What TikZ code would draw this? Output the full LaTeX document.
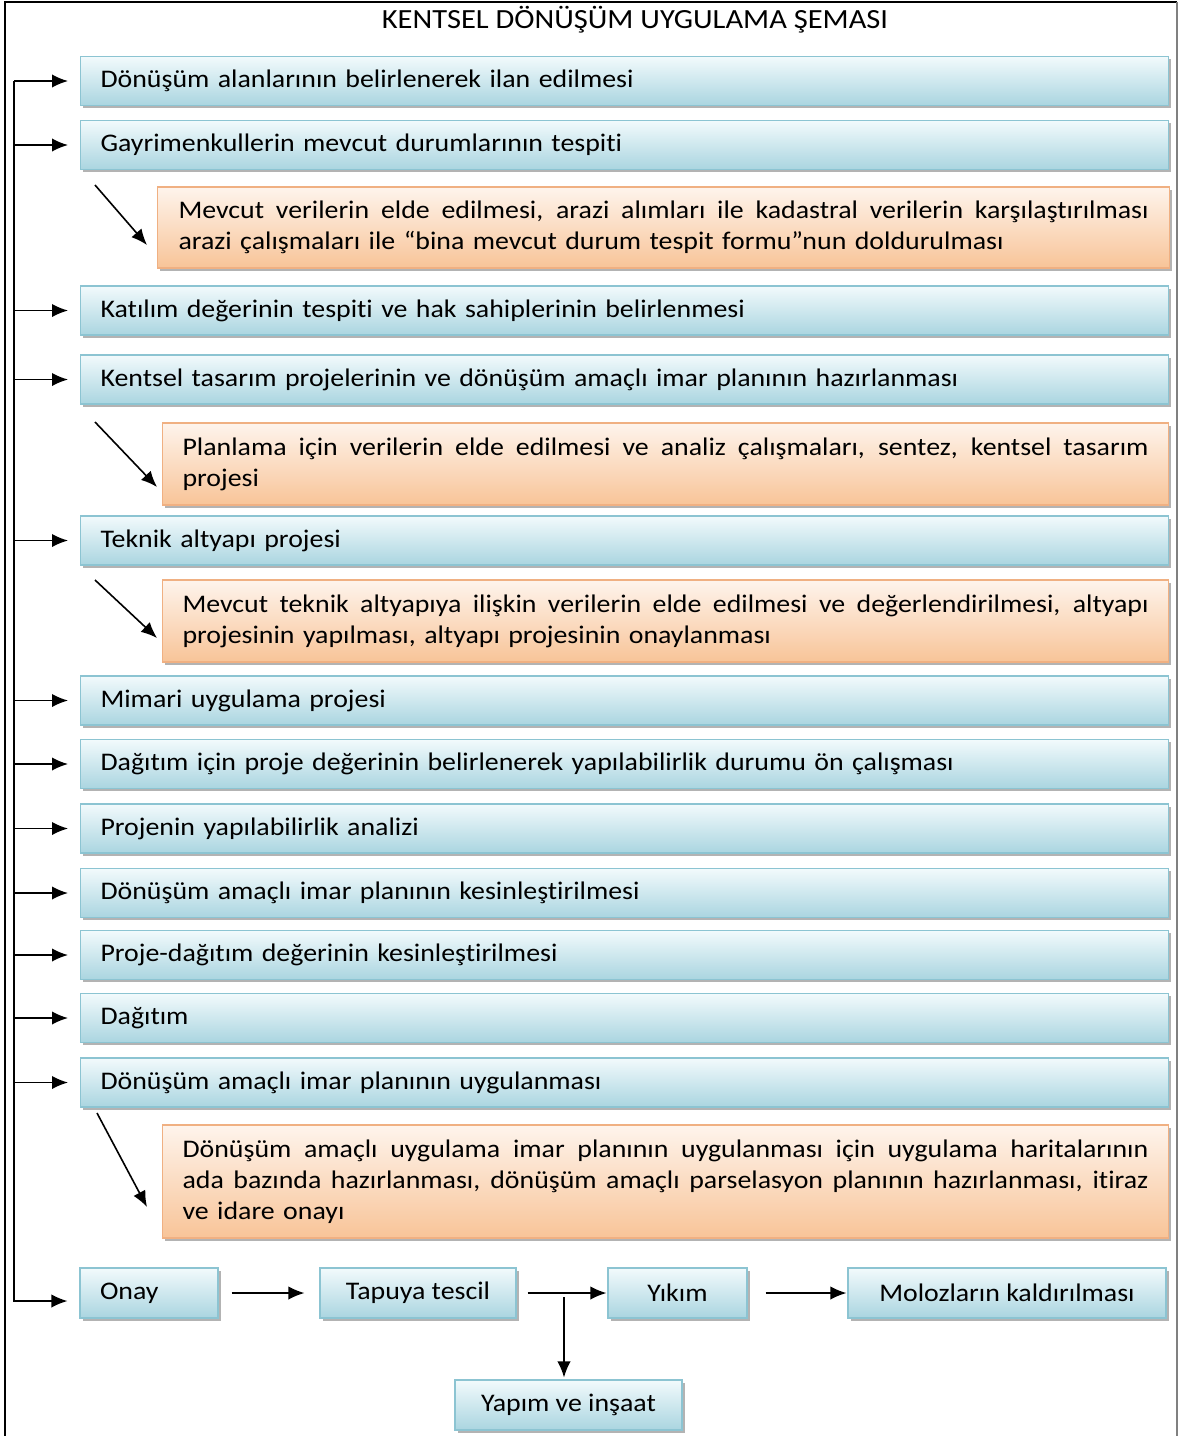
\documentclass[tikz,border=0pt]{standalone}
\usepackage{fontspec}
\setmainfont{Carlito}[FakeStretch=1.1,Ligatures=NoCommon]
\usetikzlibrary{shadows,arrows.meta}
\definecolor{bluetop}{RGB}{242,250,252}
\definecolor{bluebot}{RGB}{170,213,224}
\definecolor{blueline}{RGB}{140,196,210}
\definecolor{orgtop}{RGB}{254,244,236}
\definecolor{orgbot}{RGB}{248,196,152}
\definecolor{orgline}{RGB}{240,176,130}
\newcommand{\jl}[2]{{\spaceskip=0.3em plus 3em\relax\makebox[#1][s]{#2}}}
\tikzset{
 boxbase/.style={font=\fontsize{19}{23.25}\selectfont, inner ysep=0pt,
   drop shadow={shadow xshift=2pt, shadow yshift=-2pt, fill=black!50, opacity=0.6}},
 bluebox/.style={boxbase, draw=blueline, line width=0.8pt, top color=bluetop, bottom color=bluebot},
 rowbox/.style={bluebox, text width=786pt, align=left, inner xsep=15pt, anchor=west, minimum height=36.75pt},
 smallbox/.style={bluebox, inner xsep=0pt, minimum height=37.5pt},
 orgbox/.style={boxbase, draw=orgline, line width=0.8pt, top color=orgtop, bottom color=orgbot, align=left, anchor=west, inner xsep=15pt},
 arr/.style={-{Latex[length=12pt,width=10pt]}, line width=1.2pt, black},
}
\begin{document}
\begin{tikzpicture}[x=0.75pt,y=-0.75pt]
\useasboundingbox (0,0) rectangle (1179,1436);
% frame
\draw[line width=1.5pt] (1177,2) -- (5,2) -- (5,1436);
\draw[gray, line width=1pt] (1177,2) -- (1177,1436);
% title
\node[font=\fontsize{20.8}{23}\selectfont] (title) at (635,20) {KENTSEL DÖNÜŞÜM UYGULAMA ŞEMASI};
% main boxes
\node[rowbox] (b1) at (80,81) {Dönüşüm alanlarının belirlenerek ilan edilmesi};
\node[rowbox] (b2) at (80,145) {Gayrimenkullerin mevcut durumlarının tespiti};
\node[orgbox, text width=727.5pt, minimum height=60.75pt, inner xsep=15.75pt] (o1) at (157,227.5)
  {\jl{727.5pt}{Mevcut verilerin elde edilmesi, arazi alımları ile kadastral verilerin karşılaştırılması}\\
   arazi çalışmaları ile “bina mevcut durum tespit formu”nun doldurulması};
\node[rowbox] (b3) at (80,310.5) {Katılım değerinin tespiti ve hak sahiplerinin belirlenmesi};
\node[rowbox] (b4) at (80,379.5) {Kentsel tasarım projelerinin ve dönüşüm amaçlı imar planının hazırlanması};
\node[orgbox, text width=724.5pt, minimum height=61.5pt] (o2) at (162,464)
  {\jl{724.5pt}{Planlama için verilerin elde edilmesi ve analiz çalışmaları, sentez, kentsel tasarım}\\
   projesi};
\node[rowbox] (b5) at (80,540.5) {Teknik altyapı projesi};
\node[orgbox, text width=724.5pt, minimum height=61.5pt] (o3) at (162,621)
  {\jl{724.5pt}{Mevcut teknik altyapıya ilişkin verilerin elde edilmesi ve değerlendirilmesi, altyapı}\\
   projesinin yapılması, altyapı projesinin onaylanması};
\node[rowbox] (b6) at (80,700.5) {Mimari uygulama projesi};
\node[rowbox] (b7) at (80,764) {Dağıtım için proje değerinin belirlenerek yapılabilirlik durumu ön çalışması};
\node[rowbox] (b8) at (80,828.5) {Projenin yapılabilirlik analizi};
\node[rowbox] (b9) at (80,893) {Dönüşüm amaçlı imar planının kesinleştirilmesi};
\node[rowbox] (b10) at (80,955) {Proje-dağıtım değerinin kesinleştirilmesi};
\node[rowbox] (b11) at (80,1018) {Dağıtım};
\node[rowbox] (b12) at (80,1082.5) {Dönüşüm amaçlı imar planının uygulanması};
\node[orgbox, text width=724.5pt, minimum height=84.75pt] (o4) at (162,1181.5)
  {\jl{724.5pt}{Dönüşüm amaçlı uygulama imar planının uygulanması için uygulama haritalarının}\\
   \jl{724.5pt}{ada bazında hazırlanması, dönüşüm amaçlı parselasyon planının hazırlanması, itiraz}\\
   ve idare onayı};
% bottom row
\node[smallbox, text width=73.5pt, inner xsep=15pt, align=left] (onay) at (149,1293) {Onay};
\node[smallbox, minimum width=147pt] (tapu) at (418,1293) {Tapuya tescil};
\node[smallbox, minimum width=104.25pt] (yikim) at (677.5,1293) {Yıkım};
\node[smallbox, minimum width=238.5pt] (moloz) at (1007,1293) {Molozların kaldırılması};
\node[smallbox, minimum width=170.25pt] (yapim) at (568.5,1405) {Yapım ve inşaat};
% spine
\coordinate (spTop) at (14,81);
\draw[arr] (spTop) |- ([xshift=-9pt,yshift=-6pt]onay.west);
\foreach \b in {b1,b2,b3,b4,b5,b6,b7,b8,b9,b10,b11,b12}
  \draw[arr] (\b.west -| spTop) -- ([xshift=-9pt]\b.west);
% diagonal arrows
\coordinate (d1a) at (95,185); \coordinate (d1b) at (147,245);
\coordinate (d2a) at (95,422); \coordinate (d2b) at (157,487);
\coordinate (d3a) at (95,580); \coordinate (d3b) at (157,638);
\coordinate (d4a) at (97,1113); \coordinate (d4b) at (147,1207);
\draw[arr] (d1a) -- (d1b);
\draw[arr] (d2a) -- (d2b);
\draw[arr] (d3a) -- (d3b);
\draw[arr] (d4a) -- (d4b);
% bottom arrows
\draw[arr] ([xshift=9.75pt]onay.east) -- ([xshift=-11.25pt]tapu.west);
\draw[arr] ([xshift=8.25pt]tapu.east) -- ([xshift=-0.75pt]yikim.west);
\draw[arr] ([xshift=13.5pt]yikim.east) -- ([xshift=-0.75pt]moloz.west);
\coordinate (vt) at (564,1297);
\draw[arr] (vt) -- ([yshift=1.5pt]vt |- yapim.north);
\end{tikzpicture}
\end{document}
